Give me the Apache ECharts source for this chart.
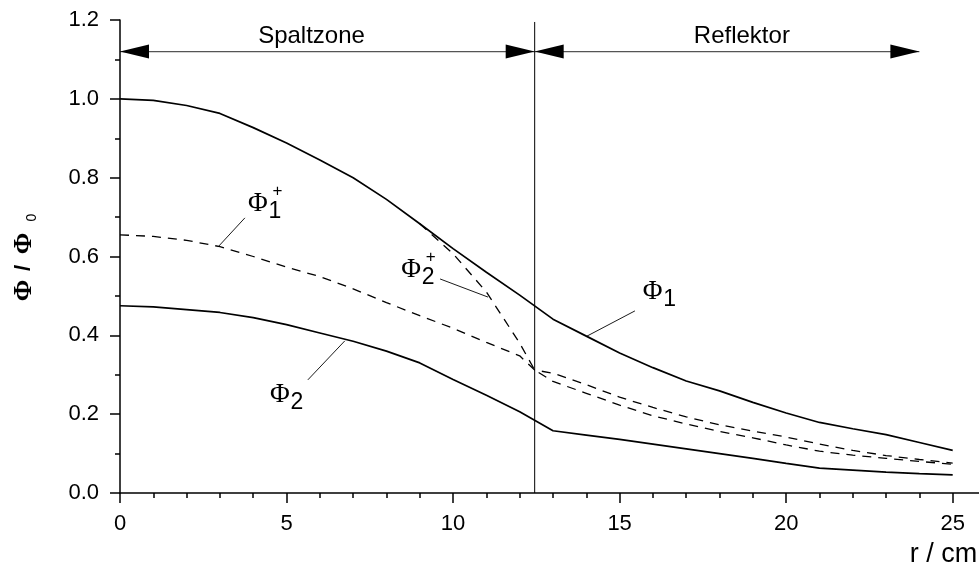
<!DOCTYPE html>
<html>
<head>
<meta charset="utf-8">
<script src="https://cdn.jsdelivr.net/npm/echarts@6/dist/echarts.min.js"></script>
<style>
  html, body { margin: 0; padding: 0; background: #fff; }
  #fluxChart { width: 979px; height: 571px; }
</style>
</head>
<body>
<div id="fluxChart"></div>
<script>
// radius r / cm and flux Phi / Phi_0
var radius = [0, 1, 2, 3, 4, 5, 6, 7, 8, 9, 10, 11, 12, 13, 14, 15, 16, 17, 18, 19, 20, 21, 22, 23, 24, 25]
var phi1 = [1.000, 0.996, 0.983, 0.963, 0.927, 0.888, 0.845, 0.800, 0.745, 0.683, 0.620, 0.560, 0.502,
  0.441, 0.398, 0.355, 0.318, 0.284, 0.259, 0.230, 0.203, 0.179, 0.163, 0.148, 0.128, 0.108]
var phi2 = [0.475, 0.472, 0.465, 0.458, 0.445, 0.427, 0.406, 0.385, 0.360, 0.330, 0.288, 0.248, 0.206,
  0.158, 0.147, 0.136, 0.124, 0.112, 0.100, 0.088, 0.075, 0.063, 0.058, 0.053, 0.049, 0.046]
// adjungierte Flüsse (gestrichelt)
var rAdj1Core = [0, 1, 2, 3, 4, 5, 6, 7, 8, 9, 10, 11, 12, 12.45]
var phi1AdjCore = [0.655, 0.651, 0.641, 0.625, 0.600, 0.573, 0.549, 0.518, 0.483, 0.450, 0.418, 0.382, 0.348, 0.312]
var rAdj2Core = [9, 10, 11, 12, 12.45]
var phi2AdjCore = [0.683, 0.607, 0.510, 0.380, 0.312]
var rRefl = [12.45, 13, 14, 15, 16, 17, 18, 19, 20, 21, 22, 23, 24, 25]
var phi1AdjRefl = [0.312, 0.304, 0.275, 0.243, 0.217, 0.193, 0.173, 0.157, 0.142, 0.124, 0.108, 0.095, 0.085, 0.076]
var phi2AdjRefl = [0.312, 0.283, 0.253, 0.223, 0.196, 0.175, 0.156, 0.140, 0.122, 0.106, 0.096, 0.088, 0.080, 0.073]

// Zonen oben
var interfaceR = 12.45
var zoneNames = ['Spaltzone', 'Reflektor']
var zoneEdges = [0, 12.45, 24]
var zoneLabelR = [5.75, 18.67]
var arrowLevel = 1.12
var zoneLabelLevel = 1.158

// Beschriftungen der Kurven (Datenkoordinaten)
var curveLabels = [
  { sub: '1', plus: true, at: [4.14, 0.733] },
  { sub: '2', plus: true, at: [8.74, 0.566] },
  { sub: '1', plus: false, at: [15.99, 0.510] },
  { sub: '2', plus: false, at: [4.80, 0.249] }
]
var leaders = [
  [[3.75, 0.698], [2.94, 0.624]],
  [[9.61, 0.543], [11.05, 0.497]],
  [[15.46, 0.462], [14.02, 0.398]],
  [[6.75, 0.386], [5.64, 0.287]]
]

function pairs(xs, ys) {
  return xs.map(function(x, i) { return [x, ys[i]] })
}

var sans = '"Liberation Sans", Arial, sans-serif'
var serif = '"Liberation Serif", "Times New Roman", serif'

var solid = { color: '#000', width: 1.7 }
var dashed = { color: '#000', width: 1.3, type: [9, 7] }

var series = [
  { name: 'phi1', type: 'line', data: pairs(radius, phi1), lineStyle: solid },
  { name: 'phi2', type: 'line', data: pairs(radius, phi2), lineStyle: solid },
  { name: 'phi1+', type: 'line', data: pairs(rAdj1Core, phi1AdjCore).concat(pairs(rRefl, phi1AdjRefl).slice(1)), lineStyle: dashed },
  { name: 'phi2+', type: 'line', data: pairs(rAdj2Core, phi2AdjCore).concat(pairs(rRefl, phi2AdjRefl).slice(1)), lineStyle: dashed },
  { name: 'grenze', type: 'line', data: [[interfaceR, 0], [interfaceR, 1.195]], lineStyle: { color: '#000', width: 1 } }
]
leaders.forEach(function(l, i) {
  series.push({ name: 'leader' + i, type: 'line', data: l, lineStyle: { color: '#000', width: 0.9 } })
})
series.forEach(function(s) {
  s.symbol = 'none'
  s.silent = true
  s.animation = false
  s.clip = false
})

var chart = echarts.init(document.getElementById('fluxChart'))
chart.setOption({
  animation: false,
  grid: { left: 120, top: 20, width: 866, height: 473, outerBoundsMode: 'none', containLabel: false },
  xAxis: {
    type: 'value',
    min: 0,
    max: 26,
    interval: 5,
    axisLine: { lineStyle: { color: '#000', width: 1.5 } },
    axisTick: { length: 10, lineStyle: { color: '#000', width: 1.5 } },
    minorTick: { show: true, splitNumber: 5, length: 5, lineStyle: { color: '#000', width: 1.5 } },
    axisLabel: {
      color: '#000', fontSize: 22, fontFamily: sans, margin: 20,
      formatter: function(v) { return v > 25 ? '' : String(v) }
    },
    splitLine: { show: false }
  },
  yAxis: {
    type: 'value',
    min: 0,
    max: 1.2,
    interval: 0.2,
    axisLine: { show: true, lineStyle: { color: '#000', width: 1.5 } },
    axisTick: { show: true, length: 10, lineStyle: { color: '#000', width: 1.5 } },
    minorTick: { show: true, splitNumber: 2, length: 5, lineStyle: { color: '#000', width: 1.5 } },
    axisLabel: {
      color: '#000', fontSize: 22, fontFamily: sans, margin: 21,
      formatter: function(v) { return v.toFixed(1) }
    },
    splitLine: { show: false }
  },
  series: series
})

function px(r, v) {
  return chart.convertToPixel({ gridIndex: 0 }, [r, v])
}

function txt(x, y, text, size, family, opts) {
  opts = opts || {}
  return {
    type: 'text', x: x, y: y, silent: true,
    style: {
      text: text, fontSize: size, fontFamily: family, fontWeight: opts.weight || 'normal',
      fill: '#000', align: opts.align || 'center', verticalAlign: 'middle'
    }
  }
}

var graphics = []

// Pfeile und Zonennamen
zoneNames.forEach(function(name, i) {
  var a = px(zoneEdges[i], arrowLevel)
  var b = px(zoneEdges[i + 1], arrowLevel)
  var y = a[1]
  graphics.push({ type: 'line', silent: true, shape: { x1: a[0], y1: y, x2: b[0], y2: y }, style: { stroke: '#555', lineWidth: 1.3 } })
  graphics.push({ type: 'polygon', silent: true, shape: { points: [[a[0], y], [a[0] + 29, y - 7], [a[0] + 29, y + 7]] }, style: { fill: '#000' } })
  graphics.push({ type: 'polygon', silent: true, shape: { points: [[b[0], y], [b[0] - 29, y - 7], [b[0] - 29, y + 7]] }, style: { fill: '#000' } })
  var p = px(zoneLabelR[i], zoneLabelLevel)
  graphics.push(txt(p[0], p[1], name, 24, sans))
})

// Kurvennamen Phi_i (+)
curveLabels.forEach(function(c) {
  var p = px(c.at[0], c.at[1])
  graphics.push(txt(p[0], p[1], 'Φ', 27, serif))
  graphics.push(txt(p[0] + 17, p[1] + 8, c.sub, 23, sans))
  if (c.plus) graphics.push(txt(p[0] + 19.5, p[1] - 13, '+', 17, sans))
})

// Achsentitel
var yMid = px(0, 0.6)
graphics.push({
  type: 'group', x: 24, y: yMid[1], rotation: Math.PI / 2, silent: true,
  children: [
    txt(-34, 0, 'Φ', 26, serif, { weight: 'bold' }),
    txt(-11.5, 0, '/', 22, sans, { weight: 'bold' }),
    txt(13, 0, 'Φ', 26, serif, { weight: 'bold' }),
    txt(39, 8, '0', 14, sans)
  ]
})
var xEnd = px(25, 0)
graphics.push(txt(xEnd[0] - 43, xEnd[1] + 62, 'r / cm', 27, sans, { align: 'left' }))

chart.setOption({ graphic: graphics })
</script>
</body>
</html>
